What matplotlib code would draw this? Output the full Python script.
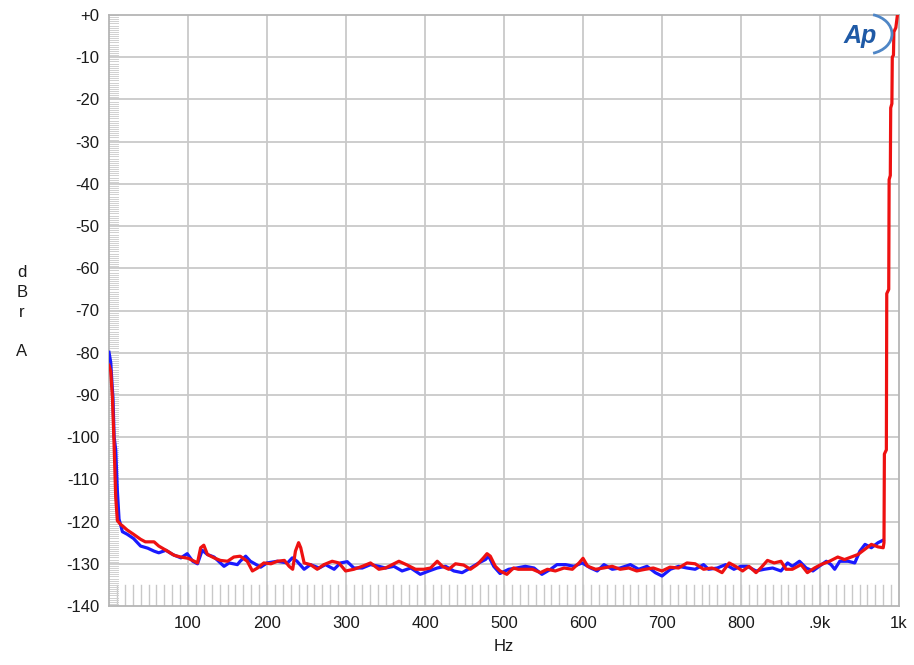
import matplotlib
matplotlib.use("Agg")
import matplotlib.pyplot as plt
from matplotlib.patches import Arc

plt.rcParams['font.family'] = ['Liberation Sans', 'DejaVu Sans']

# blue trace (Hz, dBrA)
blue_f = [0, 2.2, 4, 5, 6.5, 8.5, 10.6, 12.7, 17, 23, 31, 40, 49, 57, 63, 72, 80.6, 91, 99, 106,
          112, 118, 124.6, 133, 145.6, 152, 162.5, 166, 173, 179, 192, 200, 213, 226, 232, 238,
          247, 255, 266, 274, 285, 293, 301.6, 310, 320.6, 331, 341.6, 350, 360.6, 371, 382, 394,
          405, 415.5, 426, 436.5, 447, 457.5, 468, 476.5, 480.6, 487, 495, 506, 516, 527, 538,
          548, 559, 567, 578, 588.5, 599, 609.6, 618, 626.5, 637, 647, 660, 670.5, 681, 691.5,
          700, 710.6, 721, 731.6, 742, 752.6, 759, 770, 780.6, 791, 799.6, 808, 819, 829.5, 840,
          850.6, 859, 865, 874, 882.5, 891, 899, 908, 914, 918.6, 925, 935.6, 944, 950.5, 957,
          965, 973.5, 980]
blue_db = [-79.9, -82.3, -88, -90.6, -100, -103, -112.7, -119.4, -122.4, -123, -124, -125.8, -126.3,
           -127, -127.4, -126.8, -127.8, -128.6, -127.6, -129.4, -130, -126.8, -127.8, -128.4,
           -130.6, -129.8, -130.2, -129.4, -128.2, -129.4, -130.8, -129.8, -129.4, -129.8, -128.6,
           -129.4, -131.3, -130.2, -131, -130.2, -131.3, -129.8, -129.5, -131, -131, -130.2,
           -130.6, -131, -130.6, -131.7, -131, -132.5, -131.7, -131, -130.6, -131.7, -132.1, -131,
           -129.8, -129, -128.2, -130.6, -132.3, -131.3, -131, -130.6, -131, -132.5, -131.3,
           -130.2, -130.2, -130.6, -129.8, -131, -131.7, -130.2, -131.3, -131, -130.2, -131.3,
           -130.6, -132.1, -132.9, -131.3, -130.6, -131, -131.3, -130.2, -131.3, -131, -130.2,
           -131.3, -130.6, -130.6, -131.7, -131.3, -131, -131.7, -129.8, -130.6, -129.4, -131,
           -131.7, -130.6, -129.4, -130.2, -131.3, -129.4, -129.4, -129.8, -127, -125.4, -126.2,
           -125, -124.4]

# red trace (Hz, dBrA)
red_f = [0, 2.2, 4.3, 6.3, 8.5, 10.6, 14.8, 17, 23, 31, 40, 46, 57, 63, 74, 82.6, 91, 100, 108, 112,
         116, 120, 124.6, 133, 141, 150, 158, 166, 175, 181.5, 188, 196, 205, 213, 222, 228, 232.5,
         236, 240, 242.7, 247, 255, 263.6, 272, 282.5, 291, 299.5, 310, 320.6, 331, 341.6, 350,
         358.5, 367, 377.5, 388, 398.5, 407, 415.5, 422, 430, 438.6, 449, 457.5, 466, 474, 478.5,
         482.7, 489, 495, 503.6, 512, 518, 525, 536, 546, 555, 565, 576, 586.5, 595, 600, 606, 616,
         626, 637, 647, 658, 668, 679, 689, 700, 710, 721, 731.6, 742, 752.6, 763, 768, 776, 785,
         793, 802, 810, 819, 825, 833.5, 842, 850.6, 857, 865, 876, 884, 893, 901, 912, 922.5, 931,
         939.6, 948, 956.6, 965, 973.5, 980, 981, 981.5, 984, 984.5, 987, 987.5, 989, 989.5, 991,
         991.5, 993, 993.5, 996, 998, 1000]
red_db = [-83, -84.4, -90.6, -100.9, -114.3, -119.8, -120.7, -121, -122, -123, -124.2, -124.8, -124.8,
          -125.8, -127, -128, -128.4, -128.7, -129.4, -129.8, -126.2, -125.6, -127.8, -128.6, -129.2,
          -129.4, -128.4, -128.2, -129.4, -131.7, -131, -129.8, -130, -129.4, -129.2, -130.6, -131.3,
          -127, -125, -126.2, -129.8, -130.2, -131.3, -130.2, -129.4, -129.8, -131.7, -131.3, -130.6,
          -129.8, -131.3, -131, -130.2, -129.4, -130.3, -131.3, -131.3, -131, -129.4, -130.6, -131.3,
          -130, -130.3, -131.3, -130.2, -128.6, -127.6, -128.2, -130.6, -131.7, -132.5, -131, -131.3,
          -131.3, -131.3, -132.1, -131.3, -131.7, -131, -131.3, -129.8, -128.7, -130.6, -131.3, -131,
          -130.6, -131.3, -131, -131.7, -131.3, -131, -131.7, -130.8, -131, -129.8, -130, -131.3,
          -131, -131.3, -132.1, -129.8, -130.6, -131.7, -130.6, -132.1, -131, -129.2, -129.8, -129.4,
          -131.3, -131.3, -130.2, -132.1, -131, -130.2, -129.4, -128.4, -129, -128.4, -127.8, -126.6,
          -125.4, -126, -126.2, -125, -104, -103, -66, -65, -39, -38, -22, -21, -10, -9.5, -4, -3,
          0, 2]

x_ticks = [100, 200, 300, 400, 500, 600, 700, 800, 900, 1000]
x_labels = ['100', '200', '300', '400', '500', '600', '700', '800', '.9k', '1k']
y_ticks = list(range(0, -141, -10))
y_labels = ['+0'] + [str(v) for v in y_ticks[1:]]

fig = plt.figure(figsize=(9.14, 6.65), dpi=100)
ax = fig.add_axes([109 / 914, 1 - 606 / 665, 790 / 914, 591 / 665])

grid_c = '#c9c9c9'
for v in x_ticks[:-1]:
    ax.axvline(v, color=grid_c, lw=1.3, zorder=1)
for v in y_ticks[1:-1]:
    ax.axhline(v, color=grid_c, lw=1.3, zorder=1)

# light minor marks along the left and bottom
for v in range(10, 1000, 10):
    ax.plot([v, v], [-140, -135], color='#c8c8c8', lw=1.0, zorder=1)
for k in range(0, 281):
    v = -k * 0.5
    ax.plot([0, 11], [v, v], color='#d0d0d0', lw=0.7, zorder=1)

ax.plot(blue_f, blue_db, color='#1a1aff', lw=2.3, zorder=3)
ax.plot(red_f, red_db, color='#ee1111', lw=2.3, zorder=4)

ax.set_xlim(0, 1000)
ax.set_ylim(-140, 0)
ax.set_xticks(x_ticks)
ax.set_xticklabels(x_labels)
ax.set_yticks(y_ticks)
ax.set_yticklabels(y_labels)
ax.tick_params(length=0, labelsize=12, colors='#1a1a1a', pad=7)
for s in ax.spines.values():
    s.set_color('#b5b5b5')
    s.set_linewidth(1.3)

ax.set_xlabel('Hz', fontsize=12, color='#1a1a1a', labelpad=6)
fig.text(22 / 914, 1 - 312 / 665, 'd\nB\nr\n\nA', fontsize=12, color='#1a1a1a',
         ha='center', va='center', linespacing=1.4)

# Ap logo
fig.text(860 / 914, 1 - 36 / 665, 'Ap', fontsize=18, fontstyle='italic', fontweight='bold',
         color='#1f5aa6', ha='center', va='center')
fig.patches.append(Arc((866 / 914, 1 - 34 / 665), 52 / 914, 40 / 665, theta1=-75, theta2=75,
                       transform=fig.transFigure, color='#4f86c6', lw=2.0))

fig.savefig('out.png', dpi=100)
